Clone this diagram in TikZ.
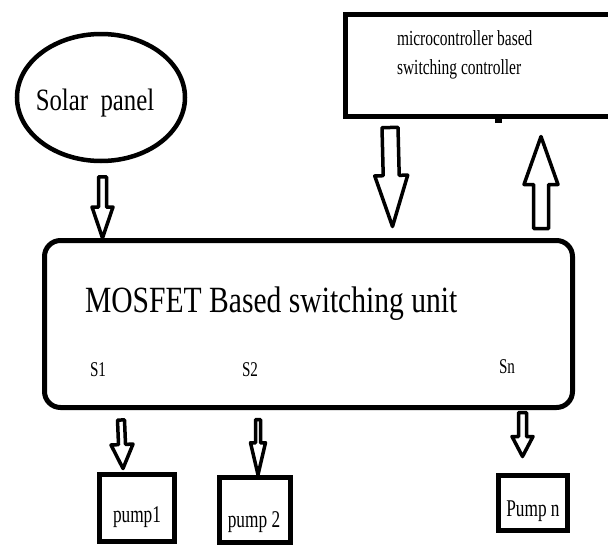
\documentclass[tikz,border=0pt]{standalone}
\usepackage{fontspec}
\setmainfont{Liberation Serif}
\newfontfamily\condfont[FakeStretch=0.8]{Liberation Serif}
\newfontfamily\narrowfont[FakeStretch=0.72]{Liberation Serif}
\usetikzlibrary{calc,shapes.geometric}
\tikzset{
  blk/.style={draw=black, line width=5pt, inner sep=0pt},
  lbl/.style={inner sep=0pt, outer sep=0pt},
  harrow/.style={draw=black, line width=3.5pt, line join=round, fill=white},
}
% start, tip, shaft half width, head half width, head length
\newcommand\hollowarrow[5]{%
  \coordinate (hbase) at ($(#2)!#5!(#1)$);
  \draw[harrow] ($(#1)!#3!90:(#2)$) -- ($(hbase)!#3!90:(#2)$) -- ($(hbase)!#4!90:(#2)$) -- (#2)
    -- ($(hbase)!#4!-90:(#2)$) -- ($(hbase)!#3!-90:(#2)$) -- ($(#1)!#3!-90:(#2)$) -- cycle;
}
\begin{document}
\begin{tikzpicture}[x=1pt,y=1pt]
\useasboundingbox[fill=white] (0,0) rectangle (608,-544);

% solar panel
\node[blk, ellipse, line width=4.5pt, minimum width=168pt, minimum height=127pt] (solar) at (101,-97.5) {};
\node[lbl, font=\condfont\fontsize{31}{34}\selectfont] (solartxt) at (95,-103) {Solar\ \ panel};

% microcontroller box
\node[blk, rectangle, minimum width=270pt, minimum height=102pt] (micro) at (480,-65) {};
\node[lbl, anchor=base west, font=\narrowfont\fontsize{21.5}{24}\selectfont] (microA) at (397,-45) {microcontroller based};
\node[lbl, anchor=base west, font=\narrowfont\fontsize{21.5}{24}\selectfont] (microB) at (397,-74) {switching controller};
\fill[black] (495,-114) rectangle (502,-123);

% MOSFET box
\node[blk, rectangle, rounded corners=16pt, minimum width=528pt, minimum height=167pt] (mos) at (308.5,-324) {};
\node[lbl, anchor=base west, font=\condfont\fontsize{37}{40}\selectfont] (mostxt) at (85,-312) {MOSFET Based switching unit};
\node[lbl, anchor=base west, font=\narrowfont\fontsize{21}{24}\selectfont] (s1) at (90,-376) {S1};
\node[lbl, anchor=base west, font=\narrowfont\fontsize{21}{24}\selectfont] (s2) at (242,-376) {S2};
\node[lbl, anchor=base west, font=\narrowfont\fontsize{21}{24}\selectfont] (sn) at (499,-373) {Sn};

% pumps
\node[blk, rectangle, minimum width=75pt, minimum height=66.5pt] (p1) at (137,-508) {};
\node[lbl, anchor=base, font=\narrowfont\fontsize{24}{28}\selectfont] (p1txt) at (137,-522) {pump1};
\node[blk, rectangle, minimum width=71pt, minimum height=65.5pt] (p2) at (255,-510) {};
\node[lbl, anchor=base, font=\narrowfont\fontsize{24}{28}\selectfont] (p2txt) at (254,-527) {pump 2};
\node[blk, rectangle, minimum width=69pt, minimum height=55pt] (pn) at (533,-503) {};
\node[lbl, anchor=base, font=\narrowfont\fontsize{24}{28}\selectfont] (pntxt) at (533,-516) {Pump n};

% arrow ends
\coordinate (a1s) at ($(solar.south)+(1.5,-13.5)$);
\coordinate (a1e) at (a1s |- mos.north);
\coordinate (a2s) at ($(micro.south west)+(47.5,-9)$);
\coordinate (a2e) at (392.5,-226.5);
\coordinate (a3s) at (541,-228.5);
\coordinate (a3e) at (541,-136.5);
\coordinate (a4s) at ($(mos.south west)+(79,-10)$);
\coordinate (a4e) at (123,-468.5);
\coordinate (a5s) at (258,-419.5);
\coordinate (a5e) at (a5s |- p2.north);
\coordinate (a6s) at (522.5,-412.5);
\coordinate (a6e) at (522.5,-456.5);

\hollowarrow{a1s}{a1e}{4pt}{10.5pt}{31pt}
\hollowarrow{a2s}{a2e}{8pt}{16.5pt}{51pt}
\hollowarrow{a3s}{a3e}{7.5pt}{17pt}{48pt}
\hollowarrow{a4s}{a4e}{3.5pt}{11pt}{24pt}
\hollowarrow{a5s}{a5e}{2.5pt}{7.5pt}{32pt}
\hollowarrow{a6s}{a6e}{4pt}{10.5pt}{20pt}
\end{tikzpicture}
\end{document}
